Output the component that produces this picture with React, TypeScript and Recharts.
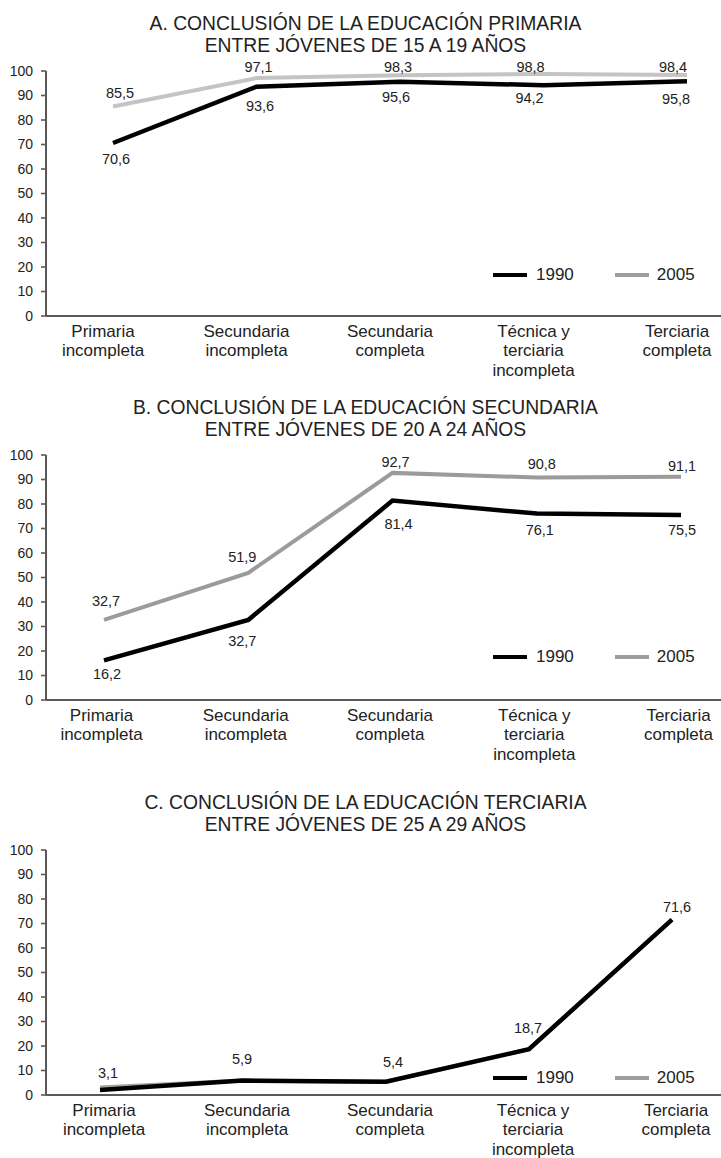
import React from 'react';
import { LineChart, Line, XAxis, YAxis, Legend } from 'recharts';

// ---------- data ----------
const CATEGORIES = [
  'Primaria\nincompleta',
  'Secundaria\nincompleta',
  'Secundaria\ncompleta',
  'Técnica y\nterciaria\nincompleta',
  'Terciaria\ncompleta',
];
const Y_TICKS = [0, 10, 20, 30, 40, 50, 60, 70, 80, 90, 100];
const SERIES_NAMES = ['1990', '2005'];

const TITLE_A = ['A. CONCLUSIÓN DE LA EDUCACIÓN PRIMARIA', 'ENTRE JÓVENES DE 15 A 19 AÑOS'];
const TITLE_B = ['B. CONCLUSIÓN DE LA EDUCACIÓN SECUNDARIA', 'ENTRE JÓVENES DE 20 A 24 AÑOS'];
const TITLE_C = ['C. CONCLUSIÓN DE LA EDUCACIÓN TERCIARIA', 'ENTRE JÓVENES DE 25 A 29 AÑOS'];

const A_1990 = [70.6, 93.6, 95.6, 94.2, 95.8];
const A_2005 = [85.5, 97.1, 98.3, 98.8, 98.4];
const B_1990 = [16.2, 32.7, 81.4, 76.1, 75.5];
const B_2005 = [32.7, 51.9, 92.7, 90.8, 91.1];
const C_1990 = [2.0, 5.9, 5.4, 18.7, 71.6];
const C_2005 = [3.1, 5.9, 5.4, 18.7, 71.6];

// ---------- style ----------
const FONT = '"Liberation Sans", Arial, Helvetica, sans-serif';
const TEXT = '#222';
const AXIS = '#595959';
const BLACK = '#000';
const LEGEND_GRAY = '#9e9e9e';

type Off = [number, number][];

const makeRows = (s1990: number[], s2005: number[]) =>
  CATEGORIES.map((c, i) => ({ cat: c, v1990: s1990[i], v2005: s2005[i] }));

const fmt = (v: number) => String(v).replace('.', ',');

const labelRenderer = (offsets: Off) => (p: any) => {
  const i = p.index ?? 0;
  const o = offsets[i] || [0, 0];
  return (
    <text
      key={`l${i}`}
      x={p.x + o[0]}
      y={p.y + o[1]}
      dy="0.35em"
      textAnchor="middle"
      fontSize={14.5}
      fill={TEXT}
    >
      {fmt(p.value)}
    </text>
  );
};

const CatTick = (p: any) => {
  const lines = String(p.payload.value).split('\n');
  return (
    <g transform={`translate(${p.x + p.shift},${p.y})`}>
      <text textAnchor="middle" fontSize={17} fill={TEXT}>
        {lines.map((l: string, i: number) => (
          <tspan key={i} x={0} y={21 + i * 19.3}>
            {l}
          </tspan>
        ))}
      </text>
    </g>
  );
};

const LegendBox = () => (
  <div
    style={{
      display: 'flex',
      alignItems: 'center',
      height: 20,
      fontSize: 17,
      color: TEXT,
      fontFamily: FONT,
      whiteSpace: 'nowrap',
    }}
  >
    <span style={{ display: 'inline-block', width: 34, height: 4.5, background: BLACK, marginRight: 9 }} />
    <span style={{ marginRight: 41 }}>{SERIES_NAMES[0]}</span>
    <span style={{ display: 'inline-block', width: 34, height: 4, background: LEGEND_GRAY, marginRight: 8 }} />
    <span>{SERIES_NAMES[1]}</span>
  </div>
);

type PanelProps = {
  top: number;
  title: string[];
  rows: any[];
  padL: number;
  padR: number;
  tickShift: number;
  gray: string;
  off1990: Off | null;
  off2005: Off | null;
  legendTop: number;
};

const Panel = ({ top, title, rows, padL, padR, tickShift, gray, off1990, off2005, legendTop }: PanelProps) => (
  <div style={{ position: 'absolute', left: 0, top, width: 721, height: 392 }}>
    <div
      style={{
        position: 'absolute',
        left: 5,
        top: 12.5,
        width: 721,
        textAlign: 'center',
        fontSize: 19.3,
        lineHeight: '22.5px',
        color: TEXT,
      }}
    >
      {title.map((t, i) => (
        <div key={i}>{t}</div>
      ))}
    </div>
    <div style={{ position: 'absolute', left: 0, top: 0 }}>
      <LineChart width={721} height={390} data={rows} margin={{ top: 71, right: 0, bottom: 0, left: 0 }}>
        <XAxis
          dataKey="cat"
          type="category"
          interval={0}
          padding={{ left: padL, right: padR }}
          tickLine={false}
          tickSize={0}
          tickMargin={0}
          height={74}
          axisLine={{ stroke: AXIS, strokeWidth: 2 }}
          tick={(p: any) => <CatTick {...p} shift={tickShift} />}
        />
        <YAxis
          type="number"
          domain={[0, 100]}
          ticks={Y_TICKS}
          interval={0}
          width={46}
          tickSize={5}
          tickMargin={8}
          axisLine={{ stroke: AXIS, strokeWidth: 2 }}
          tickLine={{ stroke: AXIS, strokeWidth: 1.6 }}
          tick={{ fontSize: 14, fill: TEXT }}
        />
        <Legend
          layout="horizontal"
          verticalAlign="middle"
          align="center"
          wrapperStyle={{ left: 493, top: legendTop, width: 'auto', height: 20 }}
          content={() => <LegendBox />}
        />
        <Line
          type="linear"
          dataKey="v2005"
          name={SERIES_NAMES[1]}
          stroke={gray}
          strokeWidth={4}
          dot={false}
          activeDot={false}
          isAnimationActive={false}
          label={off2005 ? labelRenderer(off2005) : false}
        />
        <Line
          type="linear"
          dataKey="v1990"
          name={SERIES_NAMES[0]}
          stroke={BLACK}
          strokeWidth={4.5}
          dot={false}
          activeDot={false}
          isAnimationActive={false}
          label={off1990 ? labelRenderer(off1990) : false}
        />
      </LineChart>
    </div>
  </div>
);

export default function App() {
  return (
    <div
      style={{
        position: 'absolute',
        left: 0,
        top: 0,
        width: 721,
        height: 1158,
        overflow: 'hidden',
        background: '#fff',
        fontFamily: FONT,
      }}
    >
      <Panel
        top={0}
        title={TITLE_A}
        rows={makeRows(A_1990, A_2005)}
        padL={67}
        padR={34}
        tickShift={-10}
        gray="#c4c4c4"
        off2005={[[7, -14], [2, -11.6], [-2, -8.7], [-13, -7.4], [-14, -8.4]]}
        off1990={[[3, 16], [3.5, 19], [-4, 14.7], [-14, 13], [-11, 18]]}
        legendTop={265}
      />
      <Panel
        top={384}
        title={TITLE_B}
        rows={makeRows(B_1990, B_2005)}
        padL={58}
        padR={40}
        tickShift={-2.5}
        gray="#9b9b9b"
        off2005={[[2, -18.5], [-6, -15.7], [3, -11], [5, -13.4], [1, -10.4]]}
        off1990={[[3, 13.5], [-6, 21], [6, 23.6], [3, 16.4], [1, 15]]}
        legendTop={263}
      />
      <Panel
        top={779}
        title={TITLE_C}
        rows={makeRows(C_1990, C_2005)}
        padL={54}
        padR={49}
        tickShift={4}
        gray="#a0a0a0"
        off2005={[[8, -14], [-1, -22], [7, -20], [-1, -21.5], [5, -12.3]]}
        off1990={null}
        legendTop={289}
      />
    </div>
  );
}
